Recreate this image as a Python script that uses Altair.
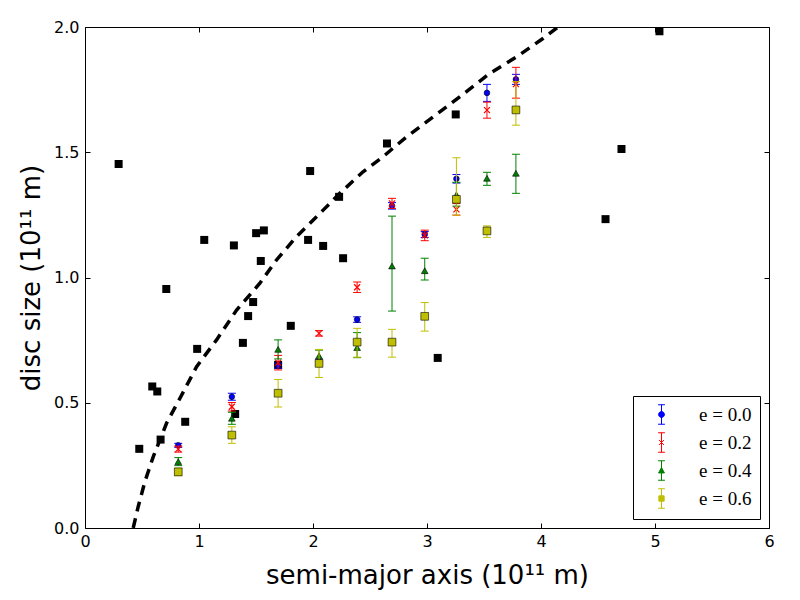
import altair as alt
import pandas as pd

# ---- observed discs (black squares) ----
obs_x = [0.295, 0.476, 0.590, 0.634, 0.663, 0.713, 0.879, 0.984, 1.046, 1.306,
         1.317, 1.385, 1.431, 1.475, 1.501, 1.542, 1.569, 1.694, 1.805, 1.957,
         1.975, 2.089, 2.229, 2.264, 2.649, 3.094, 3.252, 4.566, 4.706, 5.039]
obs_y = [1.453, 0.316, 0.565, 0.545, 0.353, 0.954, 0.424, 0.715, 1.150, 1.128,
         0.455, 0.739, 0.846, 0.902, 1.177, 1.066, 1.188, 0.651, 0.807, 1.150,
         1.425, 1.126, 1.322, 1.077, 1.535, 0.679, 1.651, 1.233, 1.513, 1.983]

# ---- dashed curve ----
curve_x = [0.423, 0.467, 0.526, 0.599, 0.716, 0.833, 0.979, 1.154, 1.330, 1.534,
           1.680, 1.855, 2.089, 2.235, 2.439, 2.614, 2.819, 3.053, 3.287, 3.549,
           3.783, 4.017, 4.150]
curve_y = [0.000, 0.086, 0.186, 0.285, 0.419, 0.518, 0.644, 0.751, 0.870, 0.977,
           1.070, 1.163, 1.269, 1.336, 1.422, 1.482, 1.561, 1.641, 1.721, 1.814,
           1.880, 1.954, 2.000]

# ---- simulated discs with error bars ----
group_x = [0.818, 1.288, 1.694, 2.053, 2.387, 2.693, 2.980, 3.258, 3.526, 3.780]

series_names = ["e = 0.0", "e = 0.2", "e = 0.4", "e = 0.6"]
series_colors = ["#0000ff", "#ff0000", "#008000", "#bfbf00"]

e00_y = [0.330, 0.524, 0.648, 0.664, 0.832, 1.286, 1.172, 1.394, 1.737, 1.791]
e00_lo = [0.008, 0.014, 0.010, 0.010, 0.011, 0.013, 0.012, 0.017, 0.034, 0.020]
e00_hi = [0.008, 0.014, 0.010, 0.010, 0.011, 0.013, 0.012, 0.017, 0.034, 0.020]

e02_y = [0.315, 0.484, 0.660, 0.777, 0.961, 1.296, 1.168, 1.272, 1.668, 1.772]
e02_lo = [0.012, 0.017, 0.029, 0.011, 0.021, 0.020, 0.021, 0.023, 0.032, 0.056]
e02_hi = [0.012, 0.017, 0.029, 0.011, 0.021, 0.020, 0.021, 0.023, 0.032, 0.067]

e04_y = [0.265, 0.438, 0.713, 0.687, 0.720, 1.046, 1.027, 1.330, 1.396, 1.416]
e04_lo = [0.016, 0.024, 0.038, 0.023, 0.040, 0.180, 0.037, 0.045, 0.028, 0.080]
e04_hi = [0.016, 0.024, 0.038, 0.023, 0.060, 0.199, 0.050, 0.050, 0.024, 0.076]

e06_y = [0.224, 0.371, 0.538, 0.657, 0.742, 0.742, 0.845, 1.312, 1.186, 1.669]
e06_lo = [0.015, 0.033, 0.055, 0.056, 0.060, 0.060, 0.059, 0.063, 0.026, 0.061]
e06_hi = [0.015, 0.033, 0.055, 0.056, 0.055, 0.051, 0.055, 0.166, 0.020, 0.113]

x_ticks = [0, 1, 2, 3, 4, 5, 6]
y_ticks = [0.0, 0.5, 1.0, 1.5, 2.0]

# ---- build tables ----
obs_df = pd.DataFrame({"x": obs_x, "y": obs_y})
curve_df = pd.DataFrame({"x": curve_x, "y": curve_y})

series_vals = [(e00_y, e00_lo, e00_hi), (e02_y, e02_lo, e02_hi),
               (e04_y, e04_lo, e04_hi), (e06_y, e06_lo, e06_hi)]
frames = []
for name, (ys, los, his) in zip(series_names, series_vals):
    frames.append(pd.DataFrame({
        "series": name, "x": group_x, "y": ys,
        "ylo": [v - d for v, d in zip(ys, los)],
        "yhi": [v + d for v, d in zip(ys, his)],
    }))
ser_df = pd.concat(frames, ignore_index=True)

xs = alt.Scale(domain=[0, 6], nice=False, zero=False)
ys_ = alt.Scale(domain=[0, 2], nice=False, zero=False)

FONT = "DejaVu Sans"
axis_common = dict(domain=False, grid=False, ticks=True, tickSize=5, offset=-5,
                   tickColor="black", tickWidth=1, labelFlush=False)

x_axis_main = alt.Axis(orient="bottom", values=x_ticks, format="d",
                       labelFont=FONT, labelFontSize=16, labelColor="black",
                       labelPadding=5, title="semi-major axis (10\u00b9\u00b9 m)",
                       titleFont=FONT, titleFontSize=26, titleFontWeight="normal",
                       titleColor="black", titlePadding=13, **axis_common)
y_axis_main = alt.Axis(orient="left", values=y_ticks, format=".1f",
                       labelFont=FONT, labelFontSize=16, labelColor="black",
                       labelPadding=6, title="disc size (10\u00b9\u00b9 m)",
                       titleFont=FONT, titleFontSize=26, titleFontWeight="normal",
                       titleColor="black", titlePadding=9, **axis_common)
x_axis_top = alt.Axis(orient="top", values=x_ticks, labels=False, title=None, **axis_common)
y_axis_right = alt.Axis(orient="right", values=y_ticks, labels=False, title=None, **axis_common)

# black squares (with top/right tick axes)
obs_layer = alt.Chart(obs_df).mark_point(
    shape="square", filled=True, color="black", size=64, opacity=1
).encode(
    x=alt.X("x:Q", scale=xs, axis=x_axis_top),
    y=alt.Y("y:Q", scale=ys_, axis=y_axis_right),
)

# dashed curve (bottom/left axes)
curve_layer = alt.Chart(curve_df).mark_line(
    color="black", strokeWidth=3.5, strokeDash=[10, 7], strokeCap="butt", clip=True
).encode(
    x=alt.X("x:Q", scale=xs, axis=x_axis_main),
    y=alt.Y("y:Q", scale=ys_, axis=y_axis_main),
    order=alt.Order("x:Q"),
)

marker_shapes = ["circle", "M-1,-1L1,1M-1,1L1,-1", "triangle-up", "square"]
marker_sizes = [32, 36, 45, 60]

layers = [obs_layer, curve_layer]
for name, col, shp, sz in zip(series_names, series_colors, marker_shapes, marker_sizes):
    d = ser_df[ser_df["series"] == name]
    base = alt.Chart(d)
    rule = base.mark_rule(color=col, strokeWidth=1).encode(
        x=alt.X("x:Q", scale=xs, axis=None),
        y=alt.Y("ylo:Q", scale=ys_, axis=None),
        y2="yhi:Q",
    )
    cap_lo = base.mark_tick(color=col, orient="horizontal", size=8, thickness=1, opacity=1).encode(
        x=alt.X("x:Q", scale=xs, axis=None),
        y=alt.Y("ylo:Q", scale=ys_, axis=None),
    )
    cap_hi = base.mark_tick(color=col, orient="horizontal", size=8, thickness=1, opacity=1).encode(
        x=alt.X("x:Q", scale=xs, axis=None),
        y=alt.Y("yhi:Q", scale=ys_, axis=None),
    )
    if shp.startswith("M"):
        pt = base.mark_point(shape=shp, filled=False, color=col, size=sz,
                             strokeWidth=1.2, opacity=1)
    else:
        pt = base.mark_point(shape=shp, filled=True, fill=col, stroke="black",
                             strokeWidth=0.6, size=sz, opacity=1)
    pt = pt.encode(
        x=alt.X("x:Q", scale=xs, axis=None),
        y=alt.Y("y:Q", scale=ys_, axis=None),
    )
    layers += [rule, cap_lo, cap_hi, pt]

# legend layer: invisible points whose legend shows errorbar glyphs
bar = "M0,-1V1M-0.35,-1H0.35M-0.35,1H0.35"
legend_paths = [
    bar + "M-0.3,0A0.3,0.3 0 1,0 0.3,0A0.3,0.3 0 1,0 -0.3,0Z",
    bar + "M-0.25,-0.25L0.25,0.25M-0.25,0.25L0.25,-0.25",
    bar + "M0,-0.3L0.3,0.25L-0.3,0.25Z",
    bar + "M-0.27,-0.27H0.27V0.27H-0.27Z",
]
legend_kw = dict(
    title=None, orient="bottom-right", offset=9,
    strokeColor="black", fillColor="white", padding=8, cornerRadius=0,
    symbolSize=380, symbolStrokeWidth=1, symbolOpacity=1, symbolOffset=10,
    labelFont="Liberation Serif", labelFontSize=19, labelColor="black",
    labelOffset=27, rowPadding=3,
)
legend_layer = alt.Chart(ser_df).mark_point(opacity=0, filled=True).encode(
    x=alt.X("x:Q", scale=xs, axis=None),
    y=alt.Y("y:Q", scale=ys_, axis=None),
    shape=alt.Shape("series:N", scale=alt.Scale(domain=series_names, range=legend_paths),
                    legend=alt.Legend(**legend_kw)),
    fill=alt.Fill("series:N", scale=alt.Scale(domain=series_names, range=series_colors),
                  legend=alt.Legend(**legend_kw)),
    stroke=alt.Stroke("series:N", scale=alt.Scale(domain=series_names, range=series_colors),
                      legend=alt.Legend(**legend_kw)),
)
layers.append(legend_layer)

chart = alt.layer(*layers).resolve_axis(
    x="independent", y="independent"
).properties(
    width=684, height=501,
    autosize=alt.AutoSizeParams(type="none"),
    padding={"left": 77, "top": 19, "right": 23, "bottom": 64},
    background="white",
).configure_view(stroke="black", strokeWidth=1)

chart.save("out.html", embed_options={"renderer": "svg", "actions": False})
